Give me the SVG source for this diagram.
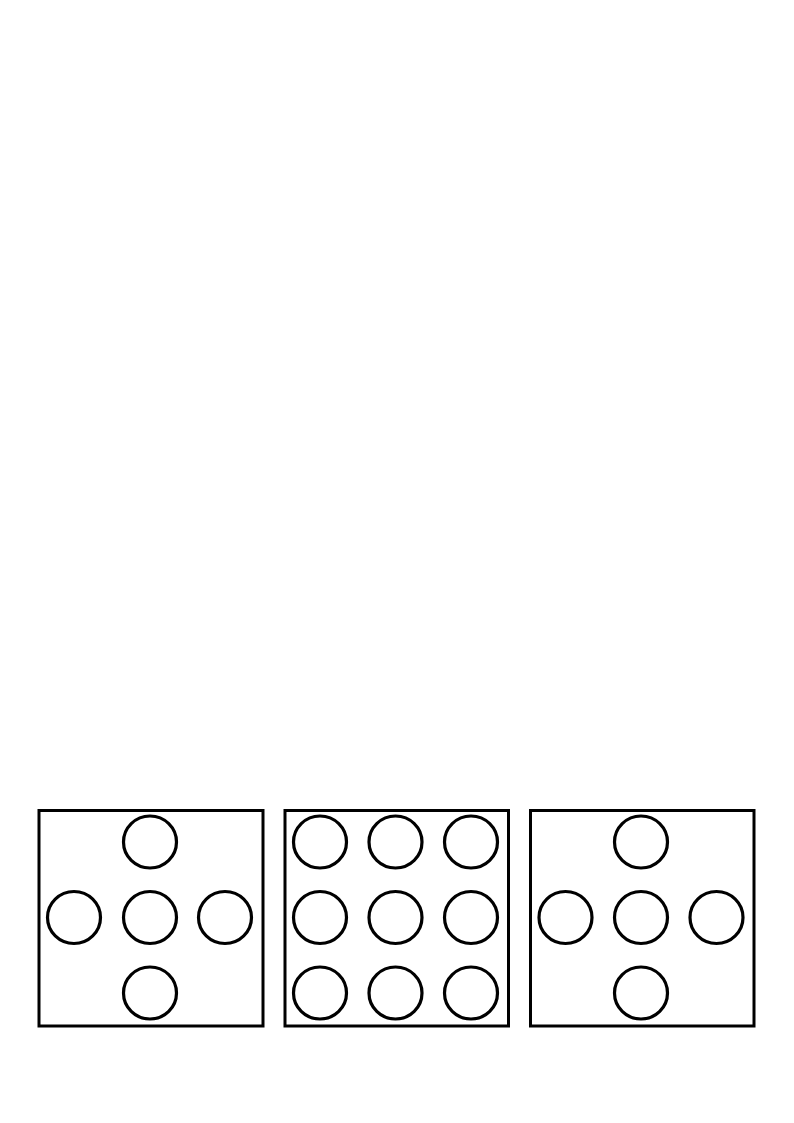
<svg xmlns="http://www.w3.org/2000/svg" width="794" height="1123" viewBox="0 0 794 1123">
<style>
.box{fill:none;stroke:#000;stroke-width:3}
.c{fill:none;stroke:#000;stroke-width:3.2}
</style>
<rect width="794" height="1123" fill="#fff"/>
<g id="panel1">
<rect class="box" x="39" y="810.5" width="224" height="215.5"/>
<ellipse class="c" cx="150" cy="842" rx="26.5" ry="26"/>
<ellipse class="c" cx="74" cy="917.5" rx="26.5" ry="26"/>
<ellipse class="c" cx="150" cy="917.5" rx="26.5" ry="26"/>
<ellipse class="c" cx="225" cy="917.5" rx="26.5" ry="26"/>
<ellipse class="c" cx="150" cy="993" rx="26.5" ry="26"/>
</g>
<g id="panel2">
<rect class="box" x="285" y="810.5" width="223.5" height="215.5"/>
<ellipse class="c" cx="320" cy="842" rx="26.5" ry="26"/>
<ellipse class="c" cx="395.5" cy="842" rx="26.5" ry="26"/>
<ellipse class="c" cx="471" cy="842" rx="26.5" ry="26"/>
<ellipse class="c" cx="320" cy="917.5" rx="26.5" ry="26"/>
<ellipse class="c" cx="395.5" cy="917.5" rx="26.5" ry="26"/>
<ellipse class="c" cx="471" cy="917.5" rx="26.5" ry="26"/>
<ellipse class="c" cx="320" cy="993" rx="26.5" ry="26"/>
<ellipse class="c" cx="395.5" cy="993" rx="26.5" ry="26"/>
<ellipse class="c" cx="471" cy="993" rx="26.5" ry="26"/>
</g>
<g id="panel3">
<rect class="box" x="530.5" y="810.5" width="223.5" height="215.5"/>
<ellipse class="c" cx="641" cy="842" rx="26.5" ry="26"/>
<ellipse class="c" cx="565.5" cy="917.5" rx="26.5" ry="26"/>
<ellipse class="c" cx="641" cy="917.5" rx="26.5" ry="26"/>
<ellipse class="c" cx="716.5" cy="917.5" rx="26.5" ry="26"/>
<ellipse class="c" cx="641" cy="993" rx="26.5" ry="26"/>
</g>
<g id="connectors"/>
</svg>
